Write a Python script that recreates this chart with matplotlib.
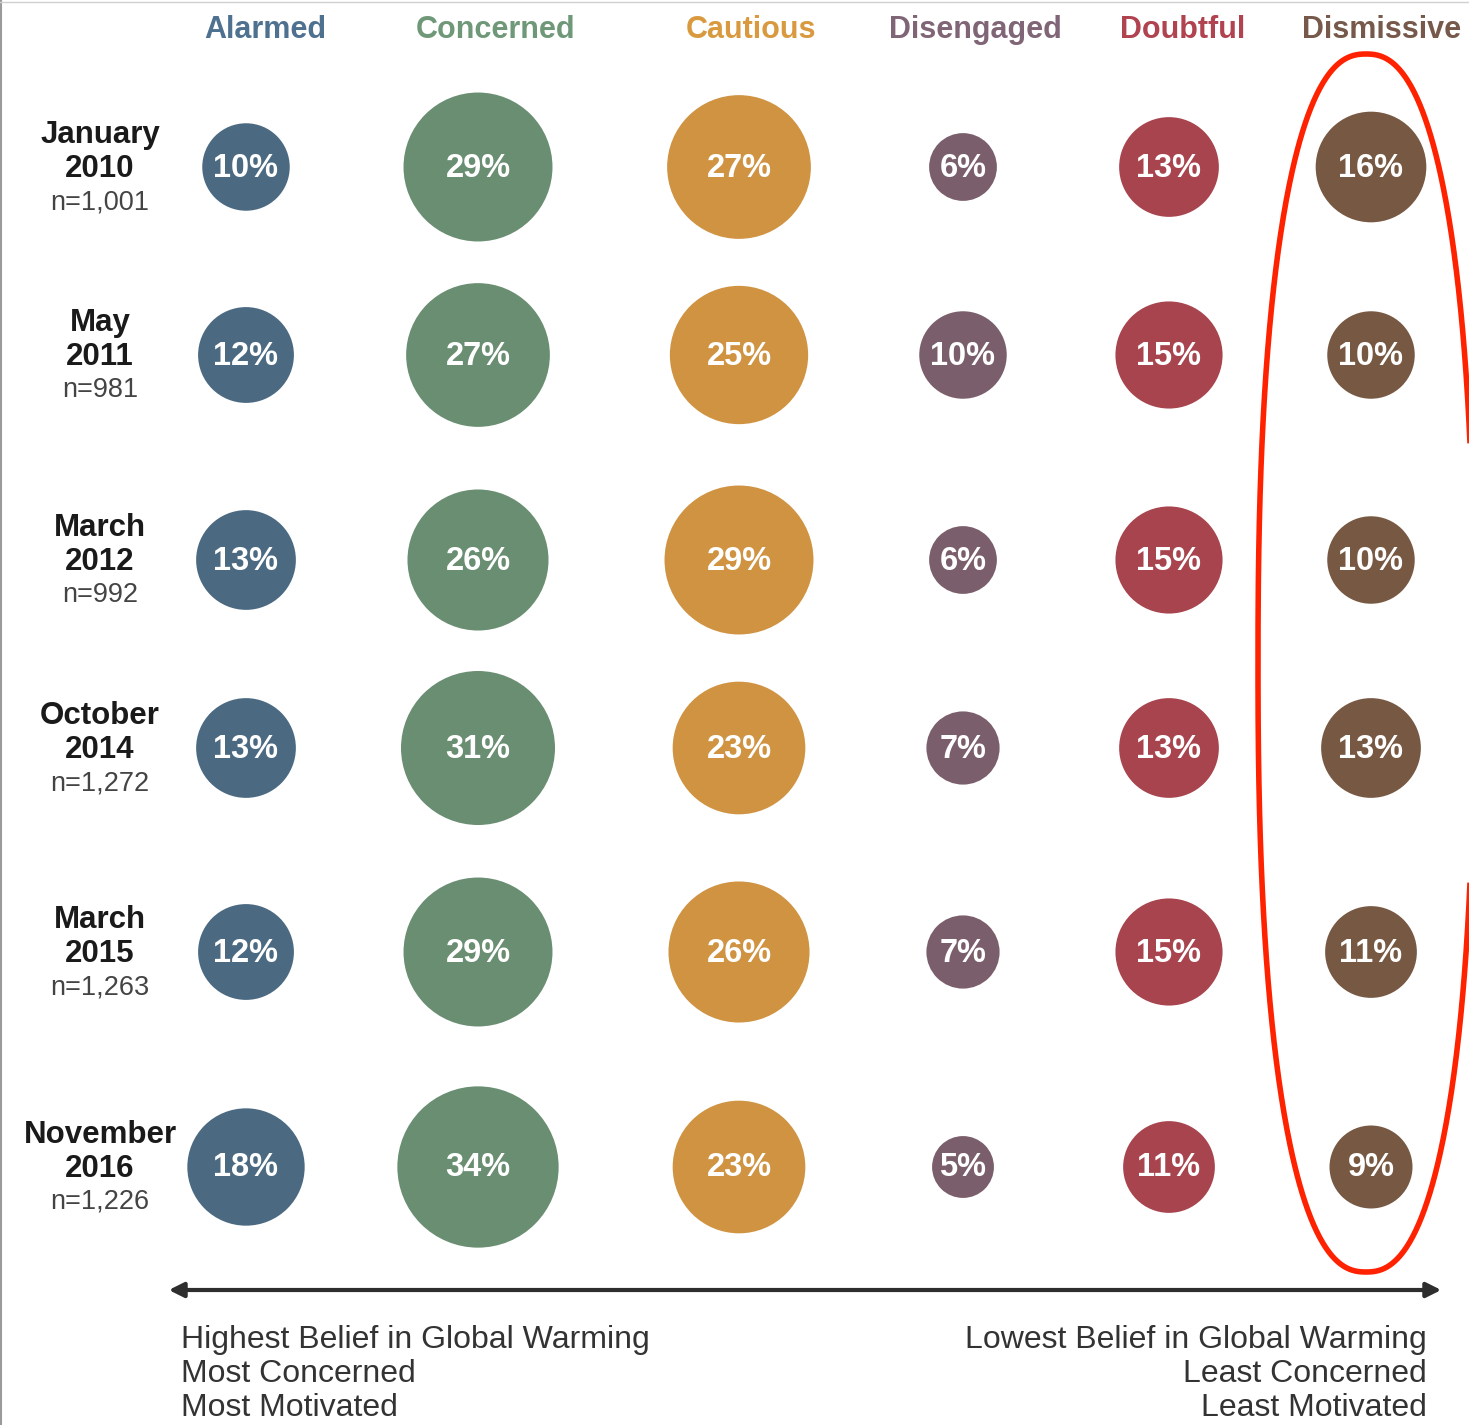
import matplotlib
matplotlib.use("Agg")
import matplotlib.pyplot as plt
from matplotlib.patches import Circle, FancyArrowPatch, PathPatch
from matplotlib.path import Path
import numpy as np

# ---- data ----
segments = ["Alarmed", "Concerned", "Cautious", "Disengaged", "Doubtful", "Dismissive"]
survey_months = ["January", "May", "March", "October", "March", "November"]
survey_years = ["2010", "2011", "2012", "2014", "2015", "2016"]
sample_sizes = ["n=1,001", "n=981", "n=992", "n=1,272", "n=1,263", "n=1,226"]
alarmed = [10, 12, 13, 13, 12, 18]
concerned = [29, 27, 26, 31, 29, 34]
cautious = [27, 25, 29, 23, 26, 23]
disengaged = [6, 10, 6, 7, 7, 5]
doubtful = [13, 15, 15, 13, 15, 11]
dismissive = [16, 10, 10, 13, 11, 9]
left_note = ["Highest Belief in Global Warming", "Most Concerned", "Most Motivated"]
right_note = ["Lowest Belief in Global Warming", "Least Concerned", "Least Motivated"]

# ---- style / layout ----
circle_colors = ["#4b6a82", "#6a8e72", "#cf9342", "#7b5e6b", "#a8444e", "#775842"]
header_colors = ["#4f7190", "#6f9878", "#d99a3f", "#806577", "#b0434f", "#76594b"]
col_x = [246, 478, 739, 963, 1169, 1371]
header_x = [265, 496, 751, 975, 1183, 1382]
row_y = [167, 355, 560, 748, 952, 1167]
label_x = 100
radius_k = 13.83
FONT = "Liberation Sans"

W, H = 1469, 1425
fig = plt.figure(figsize=(W / 100, H / 100), dpi=100)
ax = fig.add_axes([0, 0, 1, 1])
ax.set_xlim(0, W)
ax.set_ylim(H, 0)
ax.set_aspect("equal")
ax.axis("off")

# thin frame on left/top edges
ax.plot([1.5, 1.5], [0, H], color="#9a9a9a", lw=1.5)
ax.plot([0, W], [1.5, 1.5], color="#d0d0d0", lw=1.0)

series = [alarmed, concerned, cautious, disengaged, doubtful, dismissive]

# headers
for j, name in enumerate(segments):
    ax.text(header_x[j], 30, name, ha="center", va="center", fontsize=22,
            fontweight="bold", color=header_colors[j], family=FONT)

# circles
for i in range(len(survey_years)):
    for j in range(len(segments)):
        p = series[j][i]
        r = radius_k * np.sqrt(p)
        ax.add_patch(Circle((col_x[j], row_y[i]), r, facecolor=circle_colors[j],
                            edgecolor="none"))
        ax.text(col_x[j], row_y[i] + 1, f"{p}%", ha="center", va="center",
                fontsize=23.5, fontweight="bold", color="white", family=FONT)
    # row labels
    ax.text(label_x, row_y[i] - 32, survey_months[i], ha="center", va="center",
            fontsize=22.5, fontweight="bold", color="#1a1a1a", family=FONT)
    ax.text(label_x, row_y[i] + 2, survey_years[i], ha="center", va="center",
            fontsize=22.5, fontweight="bold", color="#1a1a1a", family=FONT)
    ax.text(label_x, row_y[i] + 35, sample_sizes[i], ha="center", va="center",
            fontsize=19.5, color="#444444", family=FONT)

# arrow
arrow = FancyArrowPatch((166, 1290), (1444, 1290), arrowstyle="<|-|>",
                        mutation_scale=22, lw=3, color="#2e2e2e")
ax.add_patch(arrow)

# bottom notes
for k, line in enumerate(left_note):
    ax.text(181, 1340 + 34 * k, line, ha="left", va="center", fontsize=23,
            color="#333333", family=FONT)
for k, line in enumerate(right_note):
    ax.text(1427, 1340 + 34 * k, line, ha="right", va="center", fontsize=23,
            color="#333333", family=FONT)

# red highlight (slightly squarish ellipse) around Dismissive column
cx, cy, a, b, n_exp = 1366, 663, 108, 609, 2.4
t = np.linspace(0, 2 * np.pi, 600)
ex = cx + a * np.sign(np.cos(t)) * np.abs(np.cos(t)) ** (2 / n_exp)
ey = cy + b * np.sign(np.sin(t)) * np.abs(np.sin(t)) ** (2 / n_exp)
ax.add_patch(PathPatch(Path(np.column_stack([ex, ey])), facecolor="none",
                       edgecolor="#ff2200", lw=4, clip_on=False))

fig.savefig("out.png", dpi=100, facecolor="white")
